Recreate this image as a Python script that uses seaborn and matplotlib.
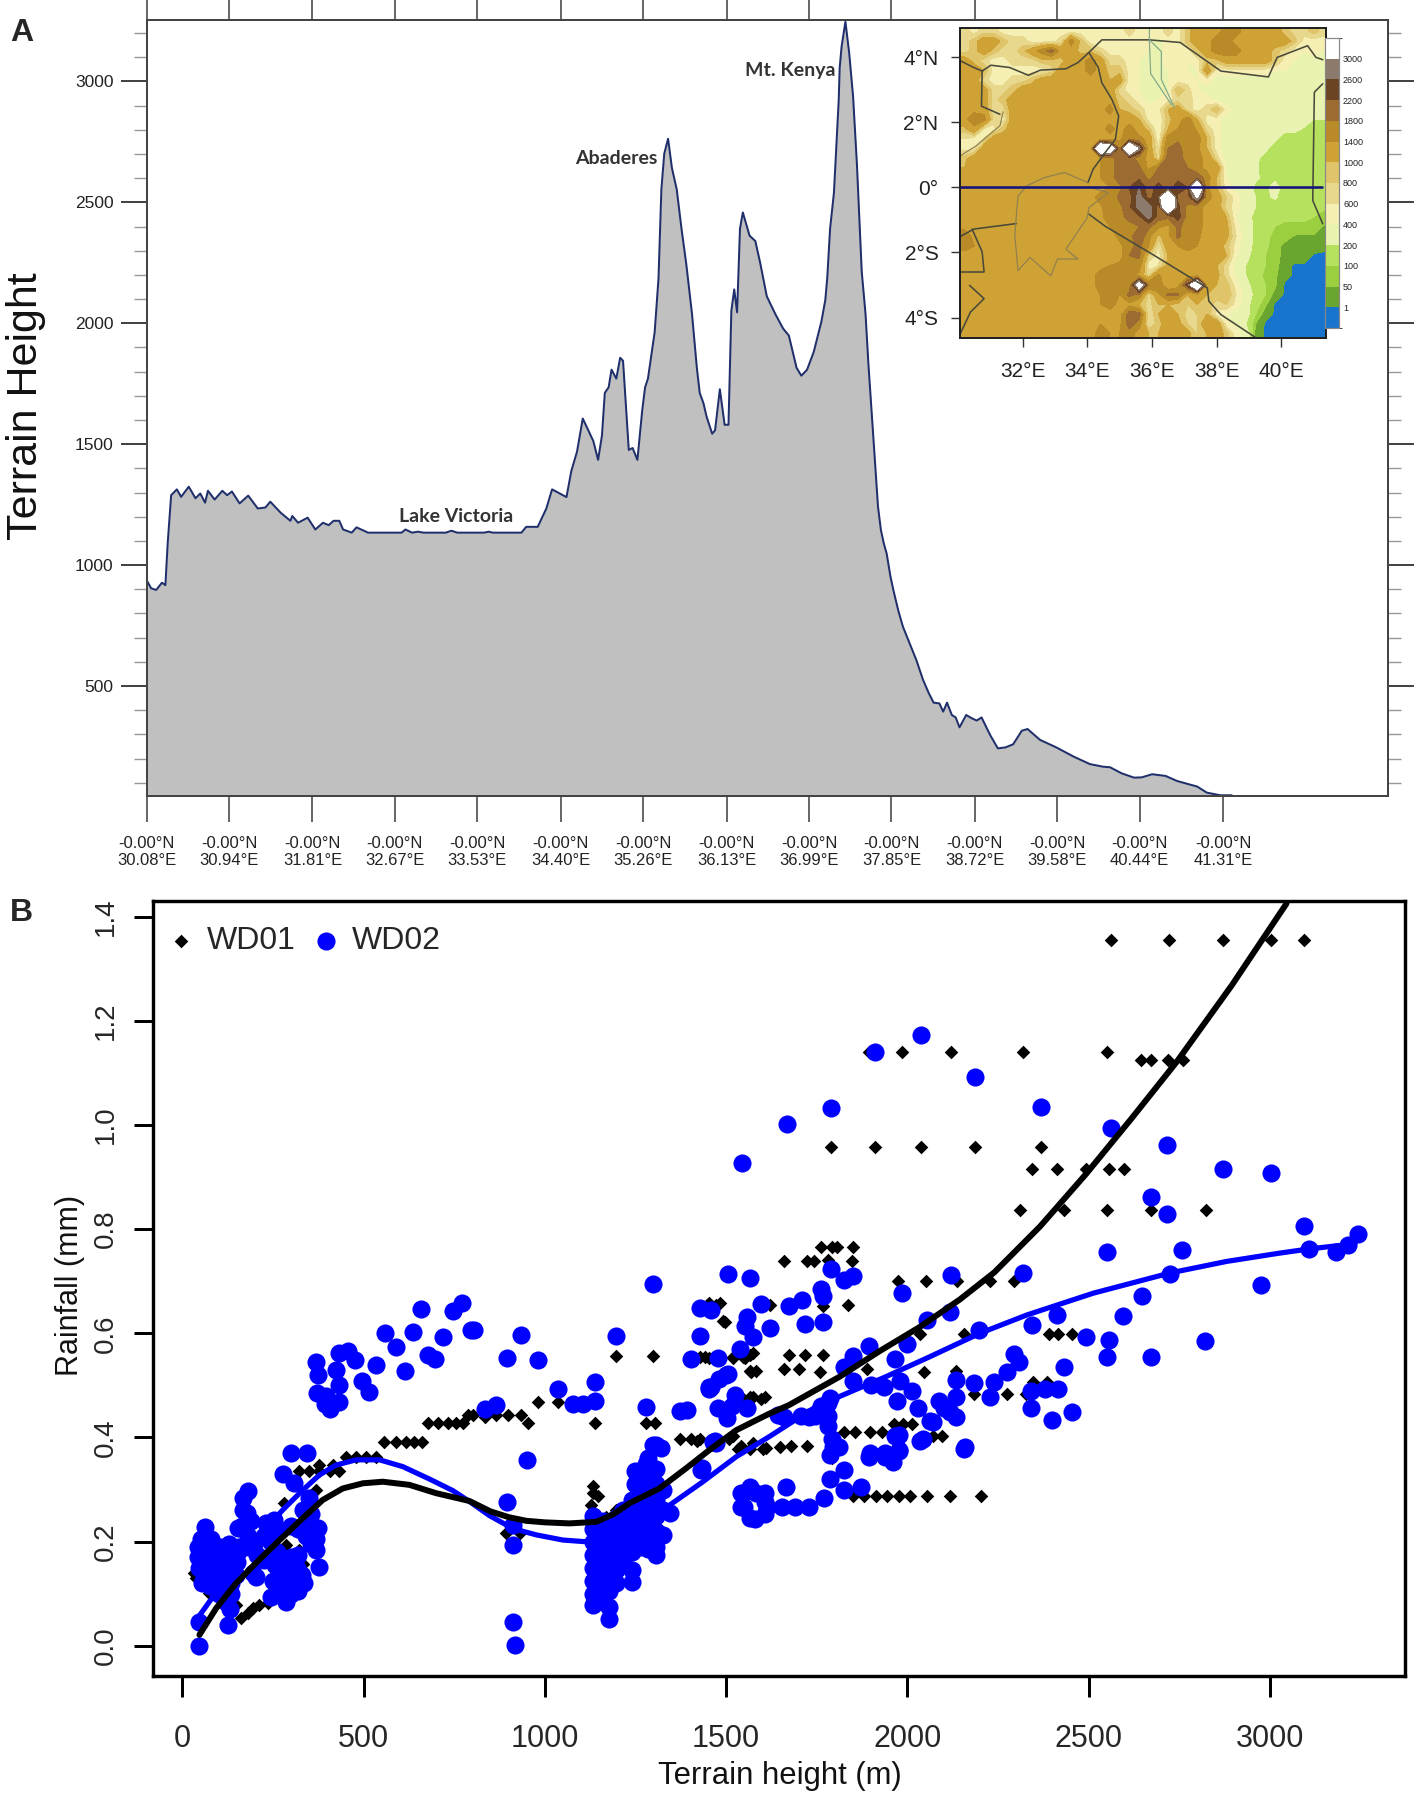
#!/usr/bin/env python3

"""
Terrain cross-section along the equator (A) with a small elevation map,
and rainfall against terrain height for two model domains (B).
"""
import matplotlib
matplotlib.use('Agg')
import matplotlib.pyplot as plt
import numpy as np
import seaborn as sns
from matplotlib.colors import BoundaryNorm, ListedColormap
from matplotlib.ticker import FixedLocator

W, H = 1414, 1795

# panel A, profile along the equator
TERRAIN_LON = [30.08, 30.127, 30.18, 30.24, 30.276, 30.30, 30.336, 30.396, 30.44, 30.52, 30.59, 30.64, 30.69,
               30.72, 30.79, 30.87, 30.92, 30.97, 31.05, 31.14, 31.24, 31.32, 31.37, 31.48, 31.58, 31.60, 31.66,
               31.76, 31.84, 31.92, 31.98, 32.03, 32.09, 32.13, 32.22, 32.27, 32.33, 32.39, 32.74, 32.78, 32.85,
               32.91, 32.97, 33.20, 33.26, 33.32, 33.60, 33.65, 33.69, 33.99, 34.04, 34.16, 34.25, 34.31, 34.39,
               34.46, 34.51, 34.57, 34.63, 34.74, 34.79, 34.83, 34.86, 34.90, 34.93, 34.98, 35.02, 35.05, 35.11,
               35.15, 35.20, 35.25, 35.28, 35.31, 35.38, 35.42, 35.45, 35.48, 35.52, 35.56, 35.61, 35.66, 35.71,
               35.77, 35.82, 35.85, 35.89, 35.92, 35.98, 36.01, 36.06, 36.11, 36.15, 36.18, 36.21, 36.24, 36.27,
               36.30, 36.37, 36.43, 36.48, 36.55, 36.64, 36.72, 36.78, 36.86, 36.91, 36.97, 37.04, 37.12, 37.16,
               37.18, 37.21, 37.25, 37.30, 37.31, 37.33, 37.37, 37.41, 37.45, 37.49, 37.52, 37.54, 37.58, 37.61,
               37.65, 37.68, 37.71, 37.74, 37.77, 37.80, 37.84, 37.87, 37.92, 37.97, 38.04, 38.11, 38.18, 38.24,
               38.29, 38.35, 38.39, 38.43, 38.48, 38.52, 38.56, 38.63, 38.69, 38.74, 38.79, 38.88, 38.96, 39.04,
               39.12, 39.21, 39.27, 39.40, 39.57, 39.75, 39.92, 40.06, 40.13, 40.25, 40.38, 40.46, 40.57, 40.71,
               40.83, 41.04, 41.14, 41.28, 41.40]
TERRAIN_ELEV = [938, 904, 897, 927, 917, 1090, 1289, 1313, 1282, 1324, 1276, 1296, 1258,
                1307, 1271, 1307, 1289, 1304, 1255, 1287, 1234, 1238, 1262, 1216, 1183, 1203, 1175,
                1196, 1147, 1175, 1165, 1183, 1183, 1147, 1134, 1156, 1145, 1134, 1134, 1147, 1134,
                1138, 1134, 1134, 1142, 1134, 1134, 1138, 1134, 1134, 1158, 1158, 1234, 1313, 1296,
                1281, 1388, 1469, 1606, 1513, 1435, 1535, 1712, 1735, 1808, 1771, 1857, 1845, 1476,
                1484, 1435, 1639, 1735, 1771, 1963, 2185, 2554, 2701, 2763, 2642, 2554, 2391, 2244,
                2037, 1816, 1712, 1668, 1616, 1543, 1557, 1727, 1580, 1580, 2052, 2140, 2045, 2391,
                2458, 2362, 2340, 2251, 2111, 2037, 1978, 1949, 1816, 1783, 1808, 1882, 2008, 2096,
                2185, 2391, 2539, 2923, 3056, 3144, 3247, 3115, 2937, 2657, 2391, 2214, 2037, 1830,
                1594, 1417, 1241, 1145, 1090, 1048, 952, 897, 814, 745, 676, 607, 525, 470,
                431, 428, 394, 431, 380, 370, 329, 380, 366, 357, 370, 297, 242, 246,
                259, 315, 322, 277, 246, 208, 177, 166, 164, 139, 121, 122, 135, 128,
                107, 84, 59, 48, 48]
LON_TICKS = [30.08, 30.94, 31.81, 32.67, 33.53, 34.40, 35.26, 36.13, 36.99, 37.85, 38.72, 39.58, 40.44, 41.31]
LON_LABELS = [f'-0.00°N\n{x:.2f}°E' for x in LON_TICKS]

# inset map, terrain height read on a 0.3 degree grid
MAP_LON = [30.2, 30.5, 30.8, 31.1, 31.4, 31.7, 32.0, 32.3, 32.6, 32.9, 33.2, 33.5, 33.8, 34.1, 34.4, 34.7, 35.0, 35.3, 35.6,
           35.9, 36.2, 36.5, 36.8, 37.1, 37.4, 37.7, 38.0, 38.3, 38.6, 38.9, 39.2, 39.5, 39.8, 40.1, 40.4, 40.7, 41.0, 41.3]
MAP_LAT = [4.8, 4.5, 4.2, 3.9, 3.6, 3.3, 3.0, 2.7, 2.4, 2.1, 1.8, 1.5, 1.2, 0.9, 0.6, 0.3, 0.0, -0.3, -0.6, -0.9,
           -1.2, -1.5, -1.8, -2.1, -2.4, -2.7, -3.0, -3.3, -3.6, -3.9, -4.2, -4.5]
MAP_HEIGHT = [
    [700, 500, 700, 700] + [500] * 13 + [700, 500, 500, 500, 700, 500, 900, 1200, 1200, 1200, 1600, 1600, 1200, 1200, 1200, 1200, 900, 700, 700, 900, 700],
    [700, 900, 1200, 1200, 900, 700, 700, 500, 500, 500, 700, 1600, 900, 500, 400, 400, 500, 500, 500, 500, 300, 500, 500, 900, 1200, 1200, 1600, 1600, 1200, 1200, 1200, 1200, 1200, 1200, 900, 500, 500, 500],
    [700, 900, 1200, 900, 700, 700, 900, 1200, 1600, 2000, 1200, 1200, 900, 900, 700, 500, 500, 500, 500, 400, 300, 500, 500, 500, 900, 1200, 1600, 1600, 1600, 1200, 1200, 1200, 900, 700, 500, 400, 500, 400],
    [1200, 900, 700, 500, 500, 700, 700, 700, 900, 900, 900, 1200, 1200, 1600, 1200, 700, 700, 500, 400, 400, 300, 500, 500, 400, 500, 900, 900, 1200, 1200, 1200, 1200, 1200, 900, 500, 400, 400, 300, 300],
    [1200, 1200, 1000, 500, 500, 500, 500, 500, 500, 700, 1200, 1200, 1200, 1600, 1200, 900, 900, 500, 400, 300, 300, 400, 500, 400, 400, 1300, 500, 500, 500, 500, 500, 500, 400, 400, 400, 400, 400, 300],
    [1200, 1200, 700, 500, 500, 700, 700, 900, 1200, 1200, 1200, 1200, 1200, 1200, 1200, 1000, 1200, 500, 400, 300, 300, 400, 500, 500, 400, 500, 300, 300, 300, 300, 300, 350, 350, 400, 400, 400, 300, 300],
    [1200, 1200, 1200, 700, 700, 900] + [1200] * 10 + [700, 500, 400, 300, 400, 400, 1000, 700, 400, 300, 300, 300, 300, 300, 350, 350, 350, 350, 350, 350, 300, 300],
    [1300, 1200, 1200, 700, 900] + [1200] * 11 + [900, 700, 500, 300, 400, 500, 700, 700, 500, 500, 300, 300, 280, 280, 280, 280, 280, 280, 280, 280, 300, 300],
    [1300, 1300, 1200, 700, 700] + [1200] * 10 + [1600, 1000, 900, 700, 500, 500, 1000, 1200, 700, 500, 700, 1000, 500, 300, 280, 280, 280, 280, 280, 280, 280, 280, 250],
    [1300, 1600, 1600, 700, 500] + [1200] * 13 + [1000, 500, 400, 900, 1200, 1600, 1000, 500, 500, 250, 250, 250, 250, 250, 250, 250, 250, 250, 200, 200],
    [900, 1300, 600, 500, 900] + [1200] * 10 + [1600, 1200, 1600, 1200, 900, 400, 1000, 1400, 1800, 1300, 700, 500, 250] + [230] * 7 + [190, 150, 150],
    [600, 500, 600] + [1200] * 11 + [1300, 1200, 1300, 1700, 1500, 1300, 400, 1600, 1700, 1600, 1600, 1000, 500, 250, 230, 230, 230, 230, 220, 150, 150, 150, 150, 150],
    [500, 500] + [1200] * 12 + [4500, 4000, 1800, 4500, 2800, 1200, 600, 1800, 2000, 1500, 1500, 1000, 500, 230, 230, 230, 230, 220, 160, 150, 140, 140, 130, 180],
    [900] + [1200] * 13 + [1400, 1600, 2000, 2000, 1600, 1300, 700, 2000, 2000, 1600, 1500, 1300, 700, 300, 250, 230, 220, 170, 160, 150, 150, 110, 110, 190],
    [1000] + [1200] * 13 + [1400, 1600, 2000, 2100, 1900, 1300, 1800, 2000, 2100, 1800, 1500, 1300, 1300, 350, 250, 230, 210, 170, 160, 150, 130, 110, 110, 170],
    [1200] * 14 + [1400, 1600, 2000, 2000, 2100, 1700, 2000, 2000, 2100, 2100, 2100, 1600, 1000, 400, 300, 250, 220, 170, 170, 150, 120, 120, 120, 150],
    [1200] * 15 + [1400, 1700, 2200, 2600, 2000, 2400, 2000, 2400, 2200, 4500, 1500, 1000, 500, 300, 250, 180, 170, 250, 150, 130, 130, 130, 130],
    [1300, 1300] + [1200] * 12 + [1600, 1500, 1900, 2000, 2800, 2000, 2500, 4500, 2100, 2000, 3100, 1600, 1200, 800, 500, 250, 200, 170, 220, 130, 130, 130, 130, 120],
    [1400, 1300] + [1200] * 12 + [1300, 1700, 1700, 2100, 2800, 2800, 2000, 4500, 2300, 1700, 1600, 1200, 1200, 700, 500, 250, 200, 150, 130, 130, 130, 130, 110, 110],
    [1200] * 13 + [1100, 1200, 1800, 1700, 1900, 2100, 2800, 2000, 1900, 2400, 1600, 1500, 1300, 1200, 1000, 400, 230, 180, 130, 120, 110, 110, 110, 100, 80],
    [1300, 1300, 1400, 1300] + [1200] * 11 + [1400, 1600, 1700, 1800, 1900, 1500, 1300, 1900, 1600, 1500, 1300, 1200, 1100, 500, 250, 180, 120, 100, 90, 90, 90, 90, 45],
    [1600, 1300, 1300, 1300] + [1200] * 12 + [1500, 1600, 2200, 1500, 900, 1300, 1900, 1500, 1500, 1200, 1200, 1100, 600, 250, 180, 110, 90, 80, 45, 40, 40, 30],
    [1500, 1400, 1300] + [1200] * 13 + [1300, 1700, 1900, 1400, 600, 1200, 1400, 1500, 1400, 1200, 1200, 900, 500, 250, 170, 110, 80, 30, 30, 30, 20, 10],
    [1300, 1300, 1300] + [1200] * 13 + [1200, 1800, 1900, 800, 500, 1000, 1300, 1300, 1400, 1200, 1200, 1000, 400, 250, 130, 100, 80, 25, 25, 20, -5, -5],
    [1300, 1300] + [1200] * 13 + [1400, 1500, 1800, 1600, 500, 600, 1100, 1200, 1300, 1300, 1300, 1000, 700, 300, 200, 120, 100, 70, 20, -5, -5, -5, -5],
    [1400, 1400, 1300] + [1200] * 11 + [1600, 1600, 1600, 1500, 1300, 700, 1500, 1000, 1200, 1200, 1200, 1200, 1100, 700, 300, 200, 120, 90, 60, 15, -5, -5, -5, -5],
    [1400, 1400] + [1200] * 12 + [1600, 1600, 1600, 1500, 3600, 1800, 1700, 1000, 1200, 2400, 4500, 1400, 1000, 900, 500, 250, 130, 100, 60, -5, -5, -5, -5, -5],
    [1400, 1300] + [1200] * 12 + [1400, 1600, 1400, 1900, 1700, 700, 1300, 1900, 1900, 1000, 1200, 1000, 900, 1000, 600, 300, 150, 100, 30, -5, -5, -5, -5, -5],
    [1200] * 14 + [1400, 1600, 1200, 1300, 1000, 700, 1000, 1000, 900, 800, 1000, 900, 700, 800, 500, 250, 130, 60, -5, -5, -5, -5, -5, -5],
    [1400] + [1200] * 16 + [2000, 2000, 600, 1000, 1400, 1000, 700, 800, 1000, 500, 400, 300, 250, 100, 20, -5, -5, -5, -5, -5, -5],
    [1200] * 14 + [1400, 1200, 1300, 2000, 1600, 600, 900, 1200, 1100, 800, 800, 1300, 1300, 500, 350, 200, 50, -5, -5, -5, -5, -5, -5, -5],
    [1200] * 14 + [1600, 1400, 1400, 1600, 1200, 1000, 1000, 1200, 1300, 1100, 800, 1000, 1200, 900, 500, 300, 25, -5, -5, -5, -5, -5, -5, -5],
]
MAP_LEVELS = [-100, 1, 50, 100, 200, 400, 600, 800, 1000, 1400, 1800, 2200, 2600, 3000, 5000]
MAP_COLORS = ['#1874CD', '#6AA52F', '#9CCF3F', '#B6E15E', '#E9F2B0', '#F5EFB4', '#E8D88E', '#DFC46A',
              '#CFA235', '#B98A28', '#9C6B32', '#6B4423', '#8C7B6C', '#FFFFFF']

# borders and lake outlines on the map, (lon, lat) pairs
BORDERS = [
    [(30.05, 3.91), (30.49, 3.69), (30.75, 3.58), (31.02, 3.76), (31.60, 3.69), (32.18, 3.45), (32.55, 3.61), (33.34, 3.65), (33.71, 3.84), (34.05, 4.15), (34.45, 4.54), (35.92, 4.54), (36.87, 4.46), (38.13, 3.58), (39.60, 3.40), (39.87, 4.00), (40.81, 4.36), (41.07, 4.00), (41.28, 3.93)],
    [(34.05, 4.15), (34.34, 3.69), (34.45, 3.22), (34.76, 2.71), (34.97, 2.20), (34.87, 1.48), (34.55, 1.07), (34.18, 0.56), (34.02, 0.15)],
    [(34.05, -0.82), (34.55, -1.19), (36.02, -2.06), (37.71, -3.09), (37.76, -3.50), (38.13, -3.91), (39.18, -4.60)],
    [(30.05, -1.52), (30.49, -1.28), (31.81, -1.11)],
    [(30.44, -1.28), (30.75, -1.98), (30.81, -2.60), (30.05, -2.60)],
    [(30.36, -3.01), (30.81, -3.42), (30.39, -3.83), (30.05, -4.55)],
    [(30.75, 3.58), (30.73, 2.50), (31.30, 2.25)],
    [(41.28, 3.19), (41.02, 2.93), (40.97, -0.40), (41.28, -1.12)],
]
LAKES = [
    [(34.02, 0.15), (33.29, 0.46), (32.66, 0.30), (32.13, 0.05), (31.86, -0.26), (31.81, -0.82), (31.76, -1.49), (31.86, -2.56), (32.23, -2.15), (32.87, -2.72), (33.08, -2.20), (33.71, -2.20), (33.34, -1.90), (34.00, -0.93), (34.05, -0.62), (34.65, -0.16), (34.02, 0.02)],
    [(31.40, 2.33), (31.30, 1.90), (30.55, 1.27), (30.05, 0.96)],
    [(35.92, 4.92), (35.92, 4.54), (36.29, 4.18), (36.29, 3.32), (36.70, 2.45)],
    [(35.92, 4.50), (35.96, 3.50), (36.60, 2.55)],
]

# panel B, WD01 diamonds
WD01_X = [2561, 2722, 2871, 3003, 3095, 1893, 1984, 2120, 2318, 2551, 2645, 2671, 2718, 2760,
          1790, 1911, 2039, 2188, 2369, 2343, 2412, 2492, 2555, 2598, 2310, 2431, 2550, 2671, 2823,
          1761, 1792, 1805, 1849, 1660, 1723, 1742, 1780, 1847, 1973, 2051, 2136, 2227, 2293,
          1767, 1836, 1622, 1471, 1446, 2034, 2155, 2391, 2416, 2454, 1673, 1717, 1767, 1566,
          1660, 1700, 1758, 1569, 1889, 2047, 2133, 2183, 2274, 2328, 2347, 2385, 1540, 1566, 1597,
          1824, 1856, 1897, 1931, 1962, 1987, 2012, 2070, 2095, 1534, 1566, 1603, 1648, 1679, 1723,
          1792, 1421, 1509, 1850, 1881, 1913, 1945, 1976, 2008, 2055, 2118, 2203,
          1427, 1452, 1519, 1547, 1492,
          1197, 1298, 981, 1036, 1137, 801, 836, 866, 898, 935, 953, 1278, 1303, 1372, 1404, 1429,
          1454, 1484, 1496, 1441, 1519, 1551, 1574, 1565, 1583, 1542, 1574, 1606, 1542, 1574, 1609, 1519,
          1132, 1146, 1128, 1132, 893, 930, 1192, 1169, 1197, 1234, 1229, 1169,
          787, 677, 705, 732, 755, 774, 557, 590, 617, 640, 661, 452, 479, 507, 534,
          323, 350, 378, 406, 433, 378, 415, 369, 281, 162, 180, 194, 212, 235,
          286, 323, 332, 286, 33, 38, 74, 148]
WD01_Y = [1.356, 1.356, 1.356, 1.356, 1.356, 1.14, 1.14, 1.14, 1.14, 1.14, 1.124, 1.124, 1.124, 1.124,
          .958, .958, .958, .958, .958, .916, .916, .916, .916, .916, .836, .836, .836, .836, .836,
          .765, .765, .765, .765, .738, .738, .738, .741, .739, .701, .701, .701, .701, .701,
          .652, .654, .654, .654, .654, .598, .598, .598, .598, .598, .559, .559, .559, .559,
          .532, .532, .525, .525, .532, .525, .528, .483, .483, .483, .507, .507, .477, .477, .473,
          .411, .411, .411, .411, .425, .425, .425, .403, .403, .378, .378, .378, .381, .384, .384,
          .36, .394, .397, .288, .288, .288, .288, .288, .288, .288, .288, .288,
          .555, .552, .554, .555, .624,
          .557, .557, .468, .468, .428, .443, .44, .443, .443, .443, .428, .427, .427, .398, .398, .398,
          .658, .658, .622, .554, .552, .552, .562, .528, .528, .478, .478, .478, .383, .389, .379, .402,
          .306, .287, .27, .293, .216, .216, .202, .248, .261, .277, .26, .226,
          .443, .427, .427, .427, .427, .427, .392, .392, .392, .392, .392, .363, .363, .363, .363,
          .336, .336, .336, .336, .336, .347, .347, .299, .274, .053, .063, .072, .078, .082,
          .194, .184, .158, .153, .139, .13, .101, .078]

# panel B, WD02 circles
WD02_X = [1910, 2038, 2187, 1790, 1668, 1543, 2368, 2561, 2717, 2870, 3003, 2672, 2717, 3095, 3244, 3216, 3182,
          3109, 2977, 2757, 2552, 2724, 2318, 1506, 1567, 1790, 1849, 1824, 1761, 1767, 2120, 1984, 1597, 1673,
          1708, 1459, 1559, 1553, 1574, 1622, 1719, 1767, 2054, 2117, 2199, 2000, 1893, 1849, 1824, 1965, 1537,
          1478, 1500, 1452, 1478, 1515, 1557, 1660, 1730, 1780, 1780, 1761, 1780, 1849, 1899, 1935, 1981, 2012,
          1971, 2029, 2101, 2063, 2133, 2133, 2133, 2183, 2240, 2227, 2274, 2294, 2309, 2342, 2342, 2379, 2416,
          2400, 2454, 2433, 2492, 2555, 2551, 2672, 2822, 2596, 2647, 2412, 2343, 1465, 1966, 2036, 1795, 2155,
          1893, 1937, 1977, 1540, 1565, 1549, 1581, 1612, 1606, 1666, 1691, 1654, 1729, 1770, 1786, 1824, 1824,
          1872, 1897, 1938, 1976, 1960, 1976, 2042, 2071, 2087, 2118, 2159, 1812, 1793, 1786, 1707, 1745, 1786,
          1644, 1524, 1502, 1470, 1432, 1480, 1454, 1391,
          1298, 1427, 1429, 1404, 1505, 1457, 1137, 1036, 1137, 1105, 1077, 1280, 1372, 866, 835, 933, 896, 981,
          804, 1197, 950, 896, 912, 912, 913, 918, 1471, 1434, 1298, 1321, 1280, 1250, 1546, 1583, 1542, 1565, 1606, 1606,
          659, 746, 771, 560, 636, 720, 797, 590, 677, 697, 613, 534, 433, 456, 476, 369, 373, 424, 433, 496,
          516, 372, 392, 406, 433, 397, 300, 344, 277, 309,
          42, 42, 47, 50, 60, 63, 68, 72, 78, 85, 88, 92, 100, 105, 110, 115, 122, 128, 130, 135, 140, 148,
          45, 45, 125, 130, 134, 120, 100, 55, 75, 150, 155,
          180, 166, 168, 178, 153, 165, 180, 190, 185, 200, 205, 225, 194, 203, 231, 254, 268, 245, 262, 225,
          240, 255, 270, 285, 300, 315, 320, 300, 285, 270, 250, 310, 330, 335, 300, 286, 245, 265, 320,
          350, 332, 355, 373, 369, 376, 360, 345, 320, 300, 369, 340, 355,
          1132, 1132, 1132, 1132, 1132, 1132, 1132, 1132, 1145, 1145, 1145, 1145, 1145, 1145, 1145,
          1160, 1160, 1160, 1160, 1160, 1160, 1160, 1178, 1178, 1178, 1178, 1178, 1178, 1178, 1178,
          1195, 1195, 1195, 1195, 1195, 1195, 1215, 1215, 1215, 1215, 1215,
          1240, 1240, 1240, 1240, 1240, 1240, 1240, 1262, 1262, 1262, 1262, 1262,
          1285, 1285, 1285, 1285, 1285, 1285, 1285, 1285, 1307, 1307, 1307, 1307, 1307, 1307, 1307, 1307,
          1250, 1326, 1326, 1326, 1344]
WD02_Y = [1.141, 1.173, 1.092, 1.032, 1.001, .927, 1.034, .995, .961, .916, .907, .861, .829, .806, .79, .769, .757,
          .762, .692, .76, .756, .714, .715, .714, .707, .724, .71, .702, .686, .672, .712, .677, .657, .653,
          .663, .645, .631, .614, .592, .611, .618, .621, .626, .641, .606, .58, .576, .556, .535, .55, .569,
          .552, .52, .494, .456, .461, .456, .439, .439, .466, .442, .46, .422, .508, .5, .497, .508, .49,
          .47, .456, .456, .432, .477, .44, .511, .504, .507, .477, .525, .561, .545, .456, .49, .494, .494,
          .433, .449, .536, .592, .587, .554, .554, .585, .633, .672, .636, .615, .391, .403, .394, .382, .378,
          .363, .363, .374, .294, .305, .266, .244, .266, .294, .305, .266, .266, .266, .283, .32, .3, .338,
          .305, .371, .371, .375, .353, .404, .397, .43, .47, .448, .382, .382, .397, .366, .441, .441, .476,
          .443, .481, .437, .393, .338, .513, .496, .452,
          .695, .648, .595, .55, .522, .496, .507, .494, .47, .464, .464, .458, .45, .462, .454, .597, .553, .549,
          .607, .595, .357, .277, .232, .193, .046, .002, .39, .341, .386, .38, .35, .336, .293, .293, .267, .245, .254, .277,
          .646, .642, .659, .6, .603, .592, .607, .573, .558, .551, .528, .54, .563, .566, .549, .544, .52, .53, .501, .509,
          .488, .485, .464, .454, .469, .48, .371, .37, .329, .312,
          .19, .17, .15, .205, .135, .229, .19, .16, .205, .175, .115, .14, .16, .19, .165, .135, .17, .195, .15, .12, .18, .135,
          .045, 0.0, .04, .07, .10, .085, .10, .12, .115, .16, .19,
          .298, .283, .261, .255, .226, .23, .21, .24, .19, .2, .175, .165, .14, .133, .235, .242, .222, .20, .18, .21,
          .17, .155, .17, .15, .17, .15, .175, .135, .12, .13, .125, .12, .135, .12, .10, .085, .094, .105, .105,
          .283, .261, .254, .226, .184, .152, .22, .235, .225, .23, .205, .21, .195,
          .25, .225, .20, .175, .15, .125, .10, .078, .235, .21, .185, .16, .135, .11, .085,
          .24, .215, .19, .165, .14, .115, .09, .23, .205, .18, .155, .13, .105, .075, .051,
          .245, .22, .195, .17, .145, .12, .26, .235, .21, .185, .16,
          .28, .255, .23, .205, .18, .146, .123, .293, .265, .24, .215, .19,
          .36, .335, .31, .285, .26, .235, .21, .185, .386, .34, .31, .28, .25, .22, .19, .174,
          .31, .30, .26, .213, .255]

# smooth fit curves of panel B
CURVE1_X = [47, 93, 148, 203, 268, 332, 387, 442, 498, 553, 626, 700, 792, 850, 900, 948, 1000, 1068, 1142, 1190,
            1234, 1316, 1390, 1454, 1528, 1620, 1673, 1814, 1924, 2034, 2145, 2240, 2366, 2492, 2618, 2744, 2895, 2996, 3046]
CURVE1_Y = [.021, .072, .12, .159, .203, .245, .28, .302, .312, .315, .309, .293, .278, .258, .247, .24, .237, .235, .238, .253,
            .274, .302, .341, .376, .414, .446, .462, .517, .566, .612, .665, .717, .805, .905, 1.012, 1.122, 1.268, 1.373, 1.425]
CURVE2_X = [45, 84, 150, 210, 277, 332, 378, 424, 479, 544, 608, 682, 746, 792, 847, 912, 976, 1050, 1109, 1200,
            1280, 1344, 1436, 1528, 1620, 1750, 1942, 2062, 2200, 2329, 2513, 2726, 2881, 3028, 3109, 3235]
CURVE2_Y = [.056, .094, .155, .21, .261, .299, .328, .347, .357, .357, .344, .32, .298, .277, .25, .225, .213, .203, .2, .21,
            .235, .27, .315, .363, .402, .46, .517, .555, .6, .635, .677, .716, .738, .754, .762, .772]


def rect(left, top, right, bottom):
    return [left / W, 1 - bottom / H, (right - left) / W, (bottom - top) / H]


def px(n):
    return n * 0.72


def draw_line(ax, pairs, color, width):
    xs, ys = zip(*pairs)
    sns.lineplot(x=list(xs), y=list(ys), sort=False, estimator=None, color=color, linewidth=px(width), ax=ax)


sns.set_style('ticks')
plt.rcParams['font.family'] = ['Liberation Sans', 'DejaVu Sans']

fig = plt.figure(figsize=(W / 100, H / 100), dpi=100)

# ---- panel A
ax_a = fig.add_axes(rect(146.6, 19.5, 1388, 796))
ax_a.fill_between(TERRAIN_LON, TERRAIN_ELEV, 0, color='#C0C0C0', linewidth=0)
sns.lineplot(x=TERRAIN_LON, y=TERRAIN_ELEV, sort=False, estimator=None, color='#1F2F6B', linewidth=px(2), ax=ax_a)
ax_a.set_xlim(30.08, 43.03)
ax_a.set_ylim(45, 3256)
ax_a.set_xticks(LON_TICKS)
ax_a.set_xticklabels(LON_LABELS, linespacing=1.15)
ax_a.set_yticks(range(500, 3001, 500))
ax_a.yaxis.set_minor_locator(FixedLocator(range(100, 3201, 100)))
ax_a.tick_params(axis='x', which='major', direction='out', top=True, bottom=True, length=px(26), width=px(1.6),
                 color='#444444', labelsize=12, labelcolor='#222222', pad=px(14))
ax_a.tick_params(axis='y', which='major', direction='out', left=True, right=True, length=px(26), width=px(2),
                 color='#444444', labelsize=12.5, labelcolor='#222222', pad=px(7))
ax_a.tick_params(axis='y', which='minor', direction='out', left=True, right=True, length=px(13), width=px(1.4),
                 color='#999999')
for s in ax_a.spines.values():
    s.set_linewidth(px(2))
    s.set_color('#444444')
ax_a.set_xlabel('')
ax_a.set_ylabel('')
fig.text(26 / W, 1 - 406 / H, 'Terrain Height', rotation=90, fontsize=31, ha='center', va='center', color='#111111')
label_kw = dict(family='Lato', fontweight='bold', fontsize=14, color='#333333', ha='center', va='center')
ax_a.text(33.31, 1200, 'Lake Victoria', **label_kw)
ax_a.text(34.98, 2683, 'Abaderes', **label_kw)
ax_a.text(36.79, 3047, 'Mt. Kenya', **label_kw)

# ---- inset map
ax_map = fig.add_axes(rect(959.5, 27.5, 1326, 338))
map_z = np.pad(np.array(MAP_HEIGHT, dtype=float), 1, mode='edge')
map_lon = [29.9] + MAP_LON + [41.6]
map_lat = [5.1] + MAP_LAT + [-4.8]
map_cmap = ListedColormap(MAP_COLORS)
map_norm = BoundaryNorm(MAP_LEVELS, map_cmap.N)
ax_map.contourf(map_lon, map_lat, map_z, levels=MAP_LEVELS, cmap=map_cmap, norm=map_norm)
for line in BORDERS:
    draw_line(ax_map, line, '#4A4A3A', 1.6)
for line in LAKES[:2]:
    draw_line(ax_map, line, '#8F8050', 1.2)
for line in LAKES[2:]:
    draw_line(ax_map, line, '#7FA889', 1.2)
draw_line(ax_map, [(30.05, 0), (41.25, 0)], '#14147A', 2.6)
ax_map.set_xlim(30.05, 41.38)
ax_map.set_ylim(-4.63, 4.92)
ax_map.set_xticks([32, 34, 36, 38, 40])
ax_map.set_xticklabels(['32°E', '34°E', '36°E', '38°E', '40°E'])
ax_map.set_yticks([4, 2, 0, -2, -4])
ax_map.set_yticklabels(['4°N', '2°N', '0°', '2°S', '4°S'])
ax_map.tick_params(axis='x', direction='out', length=px(9), width=px(1.4), color='#333333', labelsize=15,
                   labelcolor='#222222', pad=px(15))
ax_map.tick_params(axis='y', direction='out', length=px(9), width=px(1.4), color='#333333', labelsize=15,
                   labelcolor='#222222', pad=px(12))
for s in ax_map.spines.values():
    s.set_linewidth(px(2))
    s.set_color('#222222')
ax_map.set_xlabel('')
ax_map.set_ylabel('')

cax = fig.add_axes(rect(1325, 38, 1339, 328))
cbar = fig.colorbar(plt.cm.ScalarMappable(norm=map_norm, cmap=map_cmap), cax=cax, spacing='uniform',
                    ticks=MAP_LEVELS[1:-1], drawedges=False)
cbar.ax.set_yticklabels(['1', '50', '100', '200', '400', '600', '800', '1000', '1400', '1800', '2200', '2600', '3000'])
cbar.ax.tick_params(length=0, labelsize=6.5, pad=px(4), labelcolor='#222222')
cbar.outline.set_edgecolor('#888888')
cbar.outline.set_linewidth(px(1.2))

# ---- panel B
ax_b = fig.add_axes(rect(152.7, 901, 1405, 1676))
sns.scatterplot(x=WD01_X, y=WD01_Y, marker='D', s=48, color='black', linewidth=0, label='WD01', ax=ax_b)
sns.scatterplot(x=WD02_X, y=WD02_Y, marker='o', s=170, color='#0000FF', linewidth=0, label='WD02', ax=ax_b)
sns.lineplot(x=CURVE2_X, y=CURVE2_Y, sort=False, estimator=None, color='#0000FF', linewidth=px(5.2), ax=ax_b)
sns.lineplot(x=CURVE1_X, y=CURVE1_Y, sort=False, estimator=None, color='black', linewidth=px(6), ax=ax_b)
ax_b.set_xlim(-82, 3373)
ax_b.set_ylim(-0.058, 1.430)
ax_b.set_xticks(range(0, 3001, 500))
ax_b.set_yticks([0.0, 0.2, 0.4, 0.6, 0.8, 1.0, 1.2, 1.4])
ax_b.set_yticklabels(['0.0', '0.2', '0.4', '0.6', '0.8', '1.0', '1.2', '1.4'], rotation=90, va='center')
ax_b.tick_params(axis='x', direction='out', length=px(21), width=px(3), color='black', labelsize=22, pad=px(27))
ax_b.tick_params(axis='y', direction='out', length=px(19), width=px(3), color='black', labelsize=20, pad=px(15))
for s in ax_b.spines.values():
    s.set_linewidth(px(3.4))
    s.set_color('black')
ax_b.set_xlabel('')
ax_b.set_ylabel('')
fig.text(780 / W, 1 - 1776 / H, 'Terrain height (m)', fontsize=22.3, ha='center', va='center', color='#111111')
fig.text(70 / W, 1 - 1285 / H, 'Rainfall (mm)', rotation=90, fontsize=22, ha='center', va='center', color='#111111')
leg = ax_b.legend(loc='upper left', bbox_to_anchor=(-0.013, 0.996), ncol=2, frameon=False, fontsize=23,
                  handletextpad=0.1, columnspacing=0.25, borderaxespad=0.3, handlelength=1.4)

fig.text(10 / W, 1 - 33 / H, 'A', fontsize=23, fontweight='bold', va='center')
fig.text(10 / W, 1 - 913 / H, 'B', fontsize=23, fontweight='bold', va='center')

fig.savefig('out.png', dpi=100)
